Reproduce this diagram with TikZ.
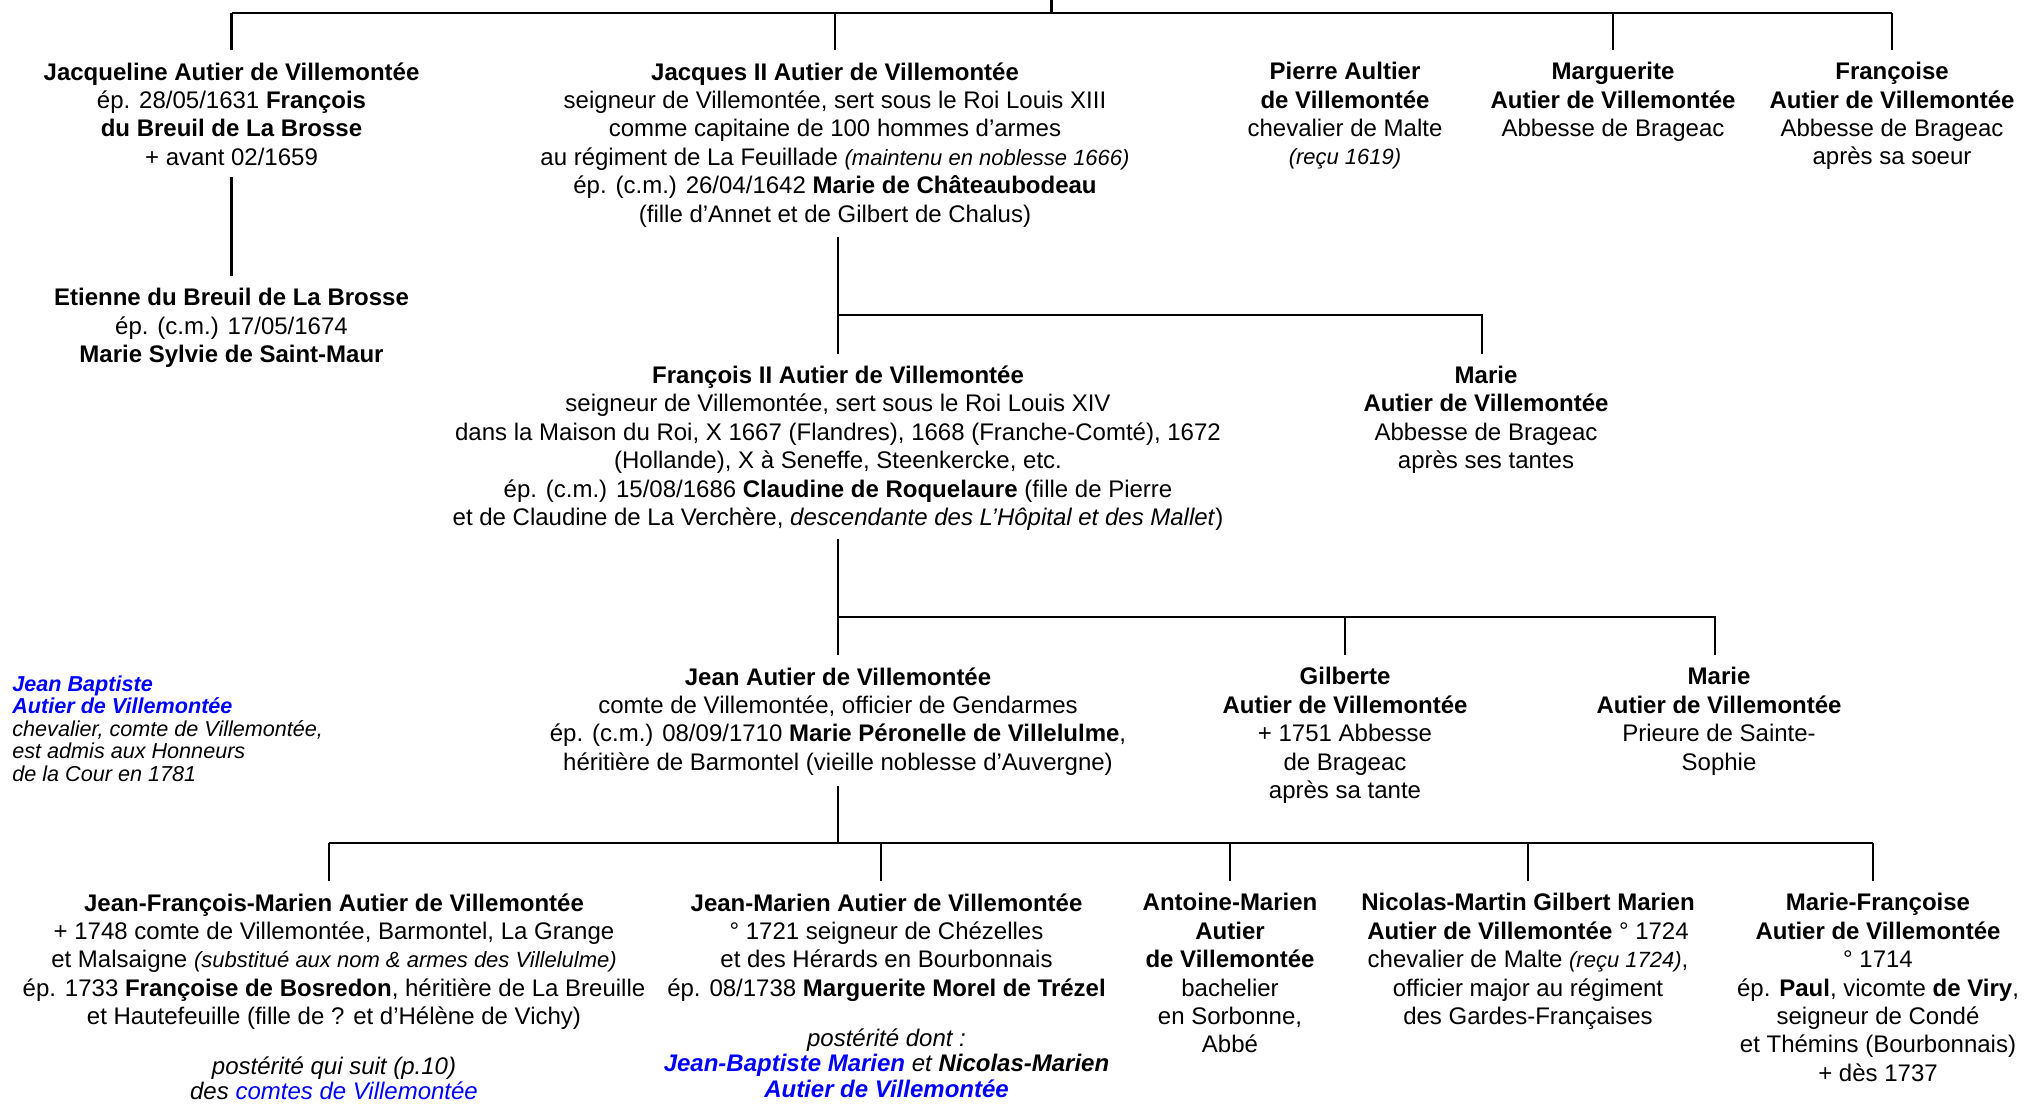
\documentclass[tikz,border=0pt]{standalone}
\usepackage{fontspec}
\setmainfont{Liberation Sans}
\definecolor{bleu}{RGB}{0,0,255}
\newcommand{\petit}[1]{{\fontsize{11}{12}\selectfont\itshape #1}}
\tikzset{
  personne/.style={anchor=north, align=center, inner sep=0pt, font=\fontsize{12}{14.2}\selectfont},
  suite/.style={anchor=north, align=center, inner sep=0pt, font=\fontsize{12}{12.8}\selectfont\itshape},
  remarque/.style={anchor=north west, align=left, inner sep=0pt, font=\fontsize{10.8}{11.3}\selectfont\itshape},
  trait/.style={line width=1.3pt},
}
\begin{document}
\begin{tikzpicture}[x=0.5pt,y=-0.5pt]
\useasboundingbox (0,0) rectangle (2028,1103);
% premiere generation
\node[personne] (jacqueline) at (231.5,62) {\textbf{Jacqueline Autier de Villemontée}\\ ép. 28/05/1631 \textbf{François}\\ \textbf{du Breuil de La Brosse}\\ + avant 02/1659};
\node[personne] (jacques) at (835,62) {\textbf{Jacques II Autier de Villemontée}\\ seigneur de Villemontée, sert sous le Roi Louis XIII\\ comme capitaine de 100 hommes d’armes\\ au régiment de La Feuillade \petit{(maintenu en noblesse 1666)}\\ ép. (c.m.) 26/04/1642 \textbf{Marie de Châteaubodeau}\\ (fille d’Annet et de Gilbert de Chalus)};
\node[personne] (pierre) at (1345,62) {\textbf{Pierre Aultier}\\ \textbf{de Villemontée}\\ chevalier de Malte\\ \petit{(reçu 1619)}};
\node[personne] (marguerite) at (1613,62) {\textbf{Marguerite}\\ \textbf{Autier de Villemontée}\\ Abbesse de Brageac};
\node[personne] (francoise) at (1892,62) {\textbf{Françoise}\\ \textbf{Autier de Villemontée}\\ Abbesse de Brageac\\ après sa soeur};
\node[personne] (etienne) at (231.5,288) {\textbf{Etienne du Breuil de La Brosse}\\ ép. (c.m.) 17/05/1674\\ \textbf{Marie Sylvie de Saint-Maur}};
% deuxieme generation
\node[personne] (francoisdeux) at (838,365.5) {\textbf{François II Autier de Villemontée}\\ seigneur de Villemontée, sert sous le Roi Louis XIV\\ dans la Maison du Roi, X 1667 (Flandres), 1668 (Franche-Comté), 1672\\ (Hollande), X à Seneffe, Steenkercke, etc.\\ ép. (c.m.) 15/08/1686 \textbf{Claudine de Roquelaure} (fille de Pierre\\ et de Claudine de La Verchère, \textit{descendante des L’Hôpital et des Mallet})};
\node[personne] (marieabbesse) at (1486,365.5) {\textbf{Marie}\\ \textbf{Autier de Villemontée}\\ Abbesse de Brageac\\ après ses tantes};
% troisieme generation
\node[personne] (jean) at (838,667) {\textbf{Jean Autier de Villemontée}\\ comte de Villemontée, officier de Gendarmes\\ ép. (c.m.) 08/09/1710 \textbf{Marie Péronelle de Villelulme},\\ héritière de Barmontel (vieille noblesse d’Auvergne)};
\node[personne] (gilberte) at (1345,667) {\textbf{Gilberte}\\ \textbf{Autier de Villemontée}\\ + 1751 Abbesse\\ de Brageac\\ après sa tante};
\node[personne] (marieprieure) at (1719,667) {\textbf{Marie}\\ \textbf{Autier de Villemontée}\\ Prieure de Sainte-\\ Sophie};
\node[remarque] (jeanbaptiste) at (12,675) {\textcolor{bleu}{\textbf{Jean Baptiste}}\\ \textcolor{bleu}{\textbf{Autier de Villemontée}}\\ chevalier, comte de Villemontée,\\ est admis aux Honneurs\\ de la Cour en 1781};
% quatrieme generation
\node[personne] (jfm) at (334,893) {\textbf{Jean-François-Marien Autier de Villemontée}\\ + 1748 comte de Villemontée, Barmontel, La Grange\\ et Malsaigne \petit{(substitué aux nom \& armes des Villelulme)}\\ ép. 1733 \textbf{Françoise de Bosredon}, héritière de La Breuille\\ et Hautefeuille (fille de ? et d’Hélène de Vichy)};
\node[suite] (jfmsuite) at (334,1056) {postérité qui suit (p.10)\\ des \textcolor{bleu}{comtes de Villemontée}};
\node[personne] (jeanmarien) at (886.5,893) {\textbf{Jean-Marien Autier de Villemontée}\\ ° 1721 seigneur de Chézelles\\ et des Hérards en Bourbonnais\\ ép. 08/1738 \textbf{Marguerite Morel de Trézel}};
\node[suite] (jmsuite) at (886.5,1028) {postérité dont :\\ \textcolor{bleu}{\textbf{Jean-Baptiste Marien}} et \textbf{Nicolas-Marien}\\ \textcolor{bleu}{\textbf{Autier de Villemontée}}};
\node[personne] (antoine) at (1230,893) {\textbf{Antoine-Marien}\\ \textbf{Autier}\\ \textbf{de Villemontée}\\ bachelier\\ en Sorbonne,\\ Abbé};
\node[personne] (nicolas) at (1528,893) {\textbf{Nicolas-Martin Gilbert Marien}\\ \textbf{Autier de Villemontée} ° 1724\\ chevalier de Malte \petit{(reçu 1724)},\\ officier major au régiment\\ des Gardes-Françaises};
\node[personne] (mariefrancoise) at (1878,893) {\textbf{Marie-Françoise}\\ \textbf{Autier de Villemontée}\\ ° 1714\\ ép. \textbf{Paul}, vicomte \textbf{de Viry},\\ seigneur de Condé\\ et Thémins (Bourbonnais)\\ + dès 1737};
% liens
\coordinate (haut) at (1051.5,0);
\coordinate (g1) at (1051.5,13);
\coordinate (g2) at (838,315);
\coordinate (g3) at (838,617);
\coordinate (g4) at (838,843);
\draw[trait] (haut) -- (g1);
\draw[trait] (jacqueline |- g1) -- (francoise |- g1);
\foreach \n in {jacqueline,jacques,marguerite,francoise}
  \draw[trait] (\n |- g1) -- ([yshift=6pt]\n.north);
\draw[trait] ([yshift=-5.5pt]jacqueline.south) -- ([yshift=6pt]etienne.north);
\draw[trait] ([yshift=-5pt]francoisdeux |- jacques.south) -- ([yshift=6pt]francoisdeux.north);
\draw[trait] (g2) -| ([xshift=-2pt,yshift=6pt]marieabbesse.north);
\draw[trait] ([yshift=-4pt]francoisdeux.south) -- ([yshift=6pt]jean.north);
\draw[trait] (g3) -| ([xshift=-2pt,yshift=6pt]marieprieure.north);
\draw[trait] (g3 -| gilberte) -- ([yshift=6pt]gilberte.north);
\draw[trait] ([yshift=-5pt]jean.south) -- (g4);
\draw[trait] ([xshift=-2.5pt]jfm |- g4) -- ([xshift=-2.5pt]mariefrancoise |- g4);
\foreach \n/\d in {jfm/-2.5pt,jeanmarien/-2.75pt,antoine/0pt,nicolas/0pt,mariefrancoise/-2.5pt}
  \draw[trait] ([xshift=\d]\n |- g4) -- ([xshift=\d,yshift=6pt]\n.north);
\end{tikzpicture}
\end{document}
